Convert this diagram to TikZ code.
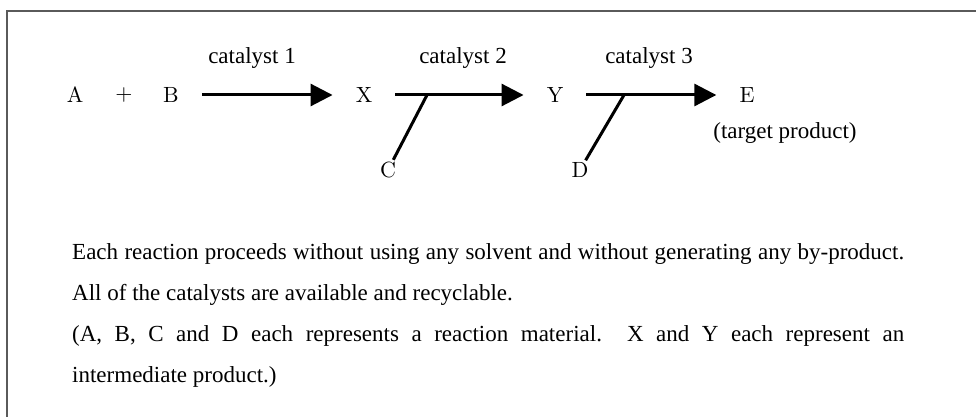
\documentclass[tikz,border=0pt]{standalone}
\usepackage{fontspec}
\setmainfont{Liberation Serif}
\newfontfamily\lmfont{lmroman10-regular.otf}
\usetikzlibrary{arrows.meta,calc}
\definecolor{framecol}{RGB}{90,90,90}
\tikzset{
  species/.style={font=\lmfont\fontsize{22}{26}\selectfont,inner sep=2pt},
  catlabel/.style={font=\fontsize{23}{28}\selectfont},
  rxn/.style={line width=3pt,-{Triangle[length=22pt,width=22pt]},shorten <=21pt,shorten >=21pt},
  feed/.style={line width=3pt},
  note/.style={font=\fontsize{23}{28}\selectfont,anchor=base west,inner sep=0pt}
}

\begin{document}
\begin{tikzpicture}[x=1pt,y=-1pt]
\useasboundingbox (0,0) rectangle (976,417);
% frame, only top and left edges show
\draw[framecol,line width=1.8pt] (7,417) -- (7,11) -- (976,11);
% species on the main line
\node[species] (A) at (75,95) {A};
\node[species] (plus) at (124,95) {+};
\node[species] (B) at (171,95) {B};
\node[species] (X) at (364,95) {X};
\node[species] (Y) at (555,95) {Y};
\node[species] (E) at (747,95) {E};
\node[catlabel] (tgt) at (785,133) {(target product)};
% side feeds
\node[species] (C) at (388,170) {C};
\node[species] (D) at (580,170) {D};
% reaction arrows
\draw[rxn] (B) -- (X);
\draw[rxn] (X) -- (Y);
\draw[rxn] (Y) -- (E);
\node[catlabel] (cat1) at (252,58) {catalyst 1};
\node[catlabel] (cat2) at (463,58) {catalyst 2};
\node[catlabel] (cat3) at (649,58) {catalyst 3};
\coordinate (j2) at (427,95);
\coordinate (j3) at (624,95);
\draw[feed] (j2) -- (C);
\draw[feed] (j3) -- (D.60);
% notes below
\node[note] (l1) at (72,259) {\makebox[832pt][s]{Each reaction proceeds without using any solvent and without generating any by-product.}};
\node[note] (l2) at (72,300) {All of the catalysts are available and recyclable.};
\node[note] (l3) at (72,341) {\makebox[832pt][s]{(A, B, C and D each represents a reaction material.\ \ X and Y each represent an}};
\node[note] (l4) at (72,382) {intermediate product.)};
\end{tikzpicture}
\end{document}
